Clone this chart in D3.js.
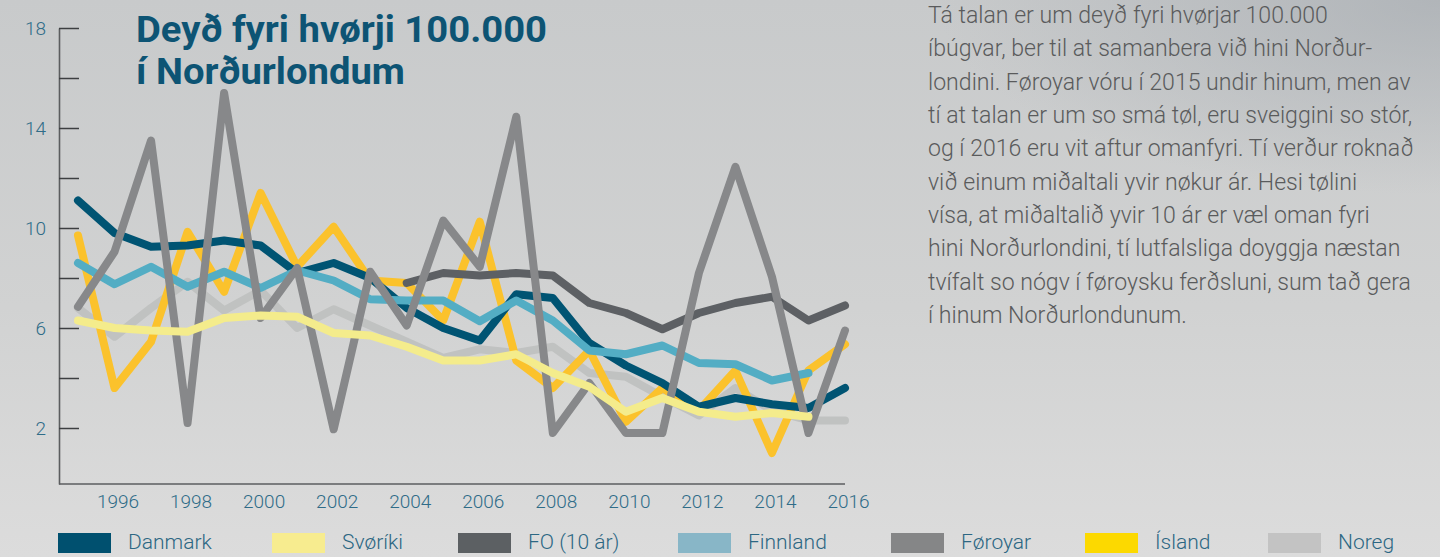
<!DOCTYPE html>
<html>
<head>
<meta charset="utf-8">
<script src="https://cdn.jsdelivr.net/npm/d3@7"></script>
<style>
  body { margin: 0; overflow: hidden; background: #d0d1d1; }
  svg { display: block; font-family: Roboto, "Noto Sans", sans-serif; }
</style>
</head>
<body>
<div id="chart"></div>
<script>
// data (deaths per 100.000)
var years = [1995, 1996, 1997, 1998, 1999, 2000, 2001, 2002, 2003, 2004, 2005,
             2006, 2007, 2008, 2009, 2010, 2011, 2012, 2013, 2014, 2015, 2016];

var danmark  = [11.1, 9.8, 9.25, 9.3, 9.5, 9.3, 8.2, 8.6, 8.0, 6.8, 6.0,
                5.5, 7.35, 7.2, 5.4, 4.5, 3.8, 2.85, 3.2, 2.95, 2.8, 3.6];
var sveriki  = [6.3, 6.0, 5.9, 5.85, 6.4, 6.5, 6.45, 5.8, 5.7, 5.25, 4.7,
                4.7, 4.95, 4.2, 3.65, 2.65, 3.2, 2.65, 2.45, 2.6, 2.45, null];
var fo10     = [null, null, null, null, null, null, null, null, null, 7.8, 8.2,
                8.1, 8.2, 8.1, 7.0, 6.6, 5.95, 6.6, 7.0, 7.25, 6.3, 6.9];
var finnland = [8.6, 7.75, 8.45, 7.65, 8.25, 7.6, 8.3, 7.9, 7.15, 7.1, 7.1,
                6.27, 7.1, 6.3, 5.1, 4.95, 5.3, 4.6, 4.55, 3.9, 4.2, null];
var foroyar  = [6.85, 9.05, 13.5, 2.2, 15.4, 6.4, 8.4, 1.95, 8.25, 6.1, 10.3,
                8.45, 14.45, 1.8, 3.8, 1.8, 1.8, 8.2, 12.45, 8.05, 1.8, 5.9];
var island   = [9.7, 3.6, 5.45, 9.85, 7.45, 11.4, 8.45, 10.05, 7.9, 7.8, 6.3,
                10.25, 4.7, 3.6, 5.1, 2.25, 3.6, 2.7, 4.3, 1.0, 4.3, 5.35];
var noreg    = [6.8, 5.65, 6.8, 7.85, 6.7, 7.5, 6.0, 6.75, 6.1, 5.45, 4.8,
                5.15, 5.0, 5.25, 4.2, 4.05, 3.25, 2.5, 3.6, 2.7, 2.3, 2.3];

var legendNames = ["Danmark", "Svøríki", "FO (10 ár)", "Finnland", "Føroyar", "Ísland", "Noreg"];
var yTickValues = [2, 4, 6, 8, 10, 12, 14, 16, 18];
var yLabelValues = [2, 6, 10, 14, 18];
var xTickValues = [1996, 1998, 2000, 2002, 2004, 2006, 2008, 2010, 2012, 2014, 2016];

var titleLines = ["Deyð fyri hvørji 100.000", "í Norðurlondum"];
var noteLines = [
  "Tá talan er um deyð fyri hvørjar 100.000",
  "íbúgvar, ber til at samanbera við hini Norður-",
  "londini. Føroyar vóru í 2015 undir hinum, men av",
  "tí at talan er um so smá tøl, eru sveiggini so stór,",
  "og í 2016 eru vit aftur omanfyri. Tí verður roknað",
  "við einum miðaltali yvir nøkur ár. Hesi tølini",
  "vísa, at miðaltalið yvir 10 ár er væl oman fyri",
  "hini Norðurlondini, tí lutfalsliga doyggja næstan",
  "tvífalt so nógv í føroysku ferðsluni, sum tað gera",
  "í hinum Norðurlondunum."
];

// series, in drawing order
var series = [
  { name: "Noreg",      values: noreg,    color: "#c0c2c1", swatch: "#c3c3c3" },
  { name: "Ísland",     values: island,   color: "#fbc22c", swatch: "#fcd900" },
  { name: "Danmark",    values: danmark,  color: "#005473", swatch: "#00506f" },
  { name: "Finnland",   values: finnland, color: "#53adc4", swatch: "#88b6c7" },
  { name: "FO (10 ár)", values: fo10,     color: "#5d6064", swatch: "#5c6063" },
  { name: "Føroyar",    values: foroyar,  color: "#87888a", swatch: "#858687" },
  { name: "Svøríki",    values: sveriki,  color: "#f4ec8c", swatch: "#f7ec8f" }
];

var width = 1440, height = 557;
var axisX = 59;
var legendX = [58, 272, 458, 678, 891, 1085, 1268];

var svg = d3.select("#chart")
  .append("svg")
    .attr("width", width)
    .attr("height", height);

// background
var defs = svg.append("defs");
var lg = defs.append("linearGradient").attr("id", "bg")
  .attr("x1", 0).attr("y1", 0).attr("x2", 0).attr("y2", 1);
lg.append("stop").attr("offset", "0%").attr("stop-color", "#c8cacb");
lg.append("stop").attr("offset", "55%").attr("stop-color", "#d1d2d2");
lg.append("stop").attr("offset", "100%").attr("stop-color", "#dcdcdc");
var rg = defs.append("radialGradient").attr("id", "corner")
  .attr("cx", 1).attr("cy", 0).attr("r", 0.35);
rg.append("stop").attr("offset", "0%").attr("stop-color", "#a9aeb3").attr("stop-opacity", 0.75);
rg.append("stop").attr("offset", "100%").attr("stop-color", "#a9aeb3").attr("stop-opacity", 0);

svg.append("rect").attr("width", width).attr("height", height).attr("fill", "url(#bg)");
svg.append("rect").attr("width", width).attr("height", height).attr("fill", "url(#corner)");

// scales
var x = d3.scaleLinear().domain([1995, 2016]).range([78, 845]);
var y = d3.scaleLinear().domain([-0.24, 18]).range([484, 28]);

// y axis: ticks pointing right, labels on the left
var yTicks = svg.append("g")
  .attr("transform", "translate(" + axisX + ",0)")
  .call(d3.axisRight(y).tickValues(yTickValues).tickSize(20).tickSizeOuter(0).tickFormat(""));
yTicks.select(".domain").attr("stroke", "#5b5d5f").attr("stroke-width", 1.6);
yTicks.selectAll(".tick line").attr("stroke", "#3d3f41").attr("stroke-width", 1.5);

var yLabels = svg.append("g")
  .attr("transform", "translate(" + axisX + ",0)")
  .call(d3.axisLeft(y).tickValues(yLabelValues).tickSize(0).tickPadding(13));
yLabels.select(".domain").remove();
yLabels.selectAll("text")
  .attr("fill", "#2f6c88")
  .attr("font-size", "19px")
  .attr("font-weight", 300)
  .attr("font-family", "Roboto, sans-serif");

// x axis
svg.append("line")
  .attr("x1", axisX).attr("x2", x(2016))
  .attr("y1", y.range()[0]).attr("y2", y.range()[0])
  .attr("stroke", "#5b5d5f").attr("stroke-width", 1.6);

var xAxis = svg.append("g")
  .attr("transform", "translate(0," + y.range()[0] + ")")
  .call(d3.axisBottom(x).tickValues(xTickValues).tickSize(0).tickPadding(11).tickFormat(d3.format("d")));
xAxis.select(".domain").remove();
xAxis.selectAll("text")
  .attr("dx", 3)
  .attr("fill", "#2f6c88")
  .attr("font-size", "19px")
  .attr("font-weight", 300)
  .attr("font-family", "Roboto, sans-serif");

// lines
var line = d3.line()
  .defined(function(d) { return d[1] != null; })
  .x(function(d) { return x(d[0]); })
  .y(function(d) { return y(d[1]); });

svg.append("g").selectAll("path")
  .data(series)
  .enter().append("path")
    .attr("fill", "none")
    .attr("stroke", function(d) { return d.color; })
    .attr("stroke-width", 8)
    .attr("stroke-linecap", "round")
    .attr("stroke-linejoin", "round")
    .attr("d", function(d) {
      return line(years.map(function(yr, i) { return [yr, d.values[i]]; }));
    });

// title
var title = svg.append("g");
titleLines.forEach(function(t, i) {
  title.append("text")
    .attr("x", 136)
    .attr("y", 42 + i * 42)
    .attr("fill", "#0d5474")
    .attr("font-size", "36px")
    .attr("font-weight", 700)
    .text(t);
});
// squeeze the title to the width it has in the picture
var tNodes = title.selectAll("text").nodes();
var tScale = 411 / tNodes[0].getComputedTextLength();
tNodes.forEach(function(n) {
  n.setAttribute("textLength", n.getComputedTextLength() * tScale);
  n.setAttribute("lengthAdjust", "spacingAndGlyphs");
});

// note on the right
var note = svg.append("g");
noteLines.forEach(function(t, i) {
  note.append("text")
    .attr("x", 928)
    .attr("y", 23 + i * 33.35)
    .attr("fill", "#5a5b5c")
    .attr("font-size", "20px")
    .attr("font-weight", 300)
    .text(t);
});
var nNodes = note.selectAll("text").nodes();
var nScale = 400 / nNodes[0].getComputedTextLength();
note.selectAll("text").attr("font-size", (20 * nScale) + "px");

// legend
var byName = {};
series.forEach(function(s) { byName[s.name] = s; });

var legend = svg.append("g");
legendNames.forEach(function(name, i) {
  var row = legend.append("g")
    .attr("transform", "translate(" + legendX[i] + ",533)");
  row.append("rect")
    .attr("width", 53)
    .attr("height", 20)
    .attr("fill", byName[name].swatch);
  row.append("text")
    .attr("x", 70)
    .attr("y", 16)
    .attr("fill", "#2c6783")
    .attr("font-size", "21px")
    .attr("font-weight", 300)
    .text(name);
});
</script>
</body>
</html>
